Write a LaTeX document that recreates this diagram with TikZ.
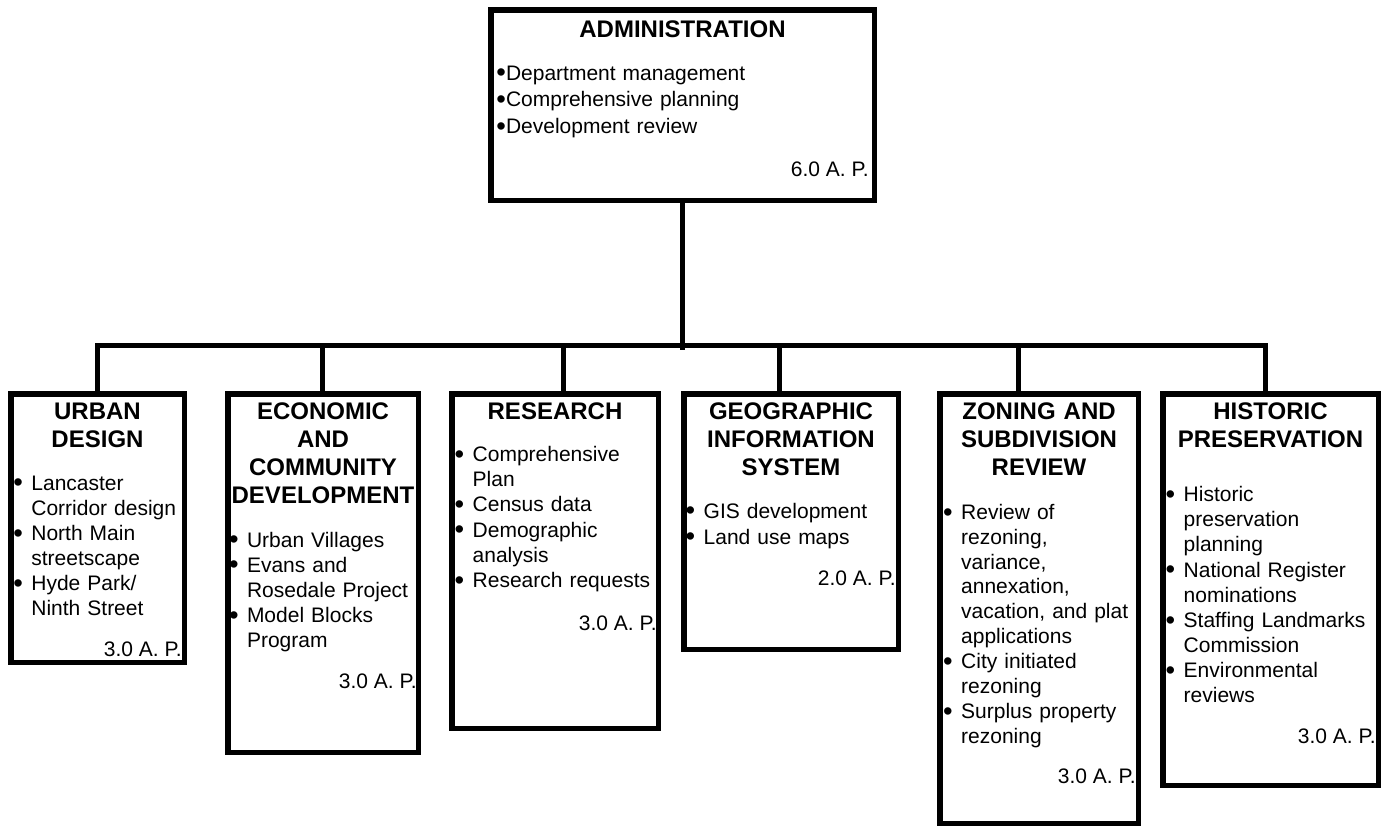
\documentclass[tikz,border=0pt]{standalone}
\usepackage{fontspec}
\setmainfont{Liberation Sans}
\setlength{\parskip}{0pt}

% one box per unit: #1 name, (#2,#3) outer top-left, (#4,#5) outer bottom-right
\newcommand\orgbox[5]{%
  \node[unitbox, anchor=north west,
        minimum width={#4-#2-5.5}, minimum height={#5-#3-5.5}]
        (#1) at (#2,#3) {};}
% bulleted duty lines; optional argument = space kept for the bullet
\newcommand\bul[1]{\llap{\makebox[#1][l]{\raisebox{-0.09em}{\scalebox{1.3}{\textbullet}}}}}
\newcommand\fitm[1][18pt]{\bul{#1}}
\newcommand\itm[1][18pt]{\par\noindent\bul{#1}}

\tikzset{
  unitbox/.style={draw, line width=5.5pt, inner sep=0pt},
  link/.style={line width=5pt},
  head/.style={inner sep=0pt, anchor=base, align=center,
               font=\bfseries\fontsize{24}{27.9}\selectfont},
  duties/.style={inner sep=0pt, anchor=base west, align=left, text width=#1,
                 font=\fontsize{21}{25.1}\selectfont},
  staff/.style={inner sep=0pt, anchor=base east, font=\fontsize{21}{25}\selectfont},
}

\begin{document}
\begin{tikzpicture}[x=1pt, y=-1pt]
\useasboundingbox (0,0) rectangle (1388,827);

% ---- boxes ----
\orgbox{admin}{488}{7}{877}{203}
\orgbox{ud}{8}{391}{187}{665}
\orgbox{eco}{225}{391}{421}{755}
\orgbox{res}{449}{391}{661}{731}
\orgbox{gis}{681}{391}{901}{652}
\orgbox{zon}{937}{391}{1141}{826}
\orgbox{his}{1160}{391}{1381}{788}

% ---- administration ----
\node[head, text width=380pt] (admin-t) at (682.5,37.3) {ADMINISTRATION};
\node[duties=360pt, font=\fontsize{21}{26.7}\selectfont] (admin-d) at (505.8,80)
  {\fitm[9.6pt]Department management
   \itm[9.6pt]Comprehensive planning
   \itm[9.6pt]Development review};
\node[staff] (admin-s) at (869,176.7) {6.0 A. P.};

% ---- urban design ----
\node[head, text width=169pt] (ud-t) at (97.5,419.3) {URBAN\\DESIGN};
\node[duties=155pt] (ud-d) at (31.2,490)
  {\fitm Lancaster\\Corridor design
   \itm North Main\\streetscape
   \itm Hyde Park/\\Ninth Street};
\node[staff] (ud-s) at (182,656) {3.0 A. P.};

% ---- economic and community development ----
\node[head, text width=186pt] (eco-t) at (323,419.3)
  {ECONOMIC\\AND\\COMMUNITY\\DEVELOPMENT};
\node[duties=170pt] (eco-d) at (246.8,547)
  {\fitm Urban Villages
   \itm Evans and\\Rosedale Project
   \itm Model Blocks\\Program};
\node[staff] (eco-s) at (417,688) {3.0 A. P.};

% ---- research ----
\node[head, text width=202pt] (res-t) at (555,419.3) {RESEARCH};
\node[duties=180pt] (res-d) at (472.5,461.7)
  {\fitm Comprehensive\\Plan
   \itm Census data
   \itm Demographic\\analysis
   \itm Research requests};
\node[staff] (res-s) at (657,630) {3.0 A. P.};

% ---- geographic information system ----
\node[head, text width=210pt] (gis-t) at (791,419.3)
  {GEOGRAPHIC\\INFORMATION\\SYSTEM};
\node[duties=190pt, font=\fontsize{21}{26}\selectfont] (gis-d) at (703.5,518)
  {\fitm GIS development
   \itm Land use maps};
\node[staff] (gis-s) at (896,585) {2.0 A. P.};

% ---- zoning and subdivision review ----
\node[head, text width=194pt] (zon-t) at (1039,419.3)
  {ZONING AND\\SUBDIVISION\\REVIEW};
\node[duties=175pt, font=\fontsize{21}{24.86}\selectfont] (zon-d) at (961,519.3)
  {\fitm Review of\\rezoning,\\variance,\\annexation,\\vacation, and plat\\applications
   \itm City initiated\\rezoning
   \itm Surplus property\\rezoning};
\node[staff] (zon-s) at (1136,783) {3.0 A. P.};

% ---- historic preservation ----
\node[head, text width=211pt] (his-t) at (1270.5,419.3)
  {HISTORIC\\PRESERVATION};
\node[duties=190pt] (his-d) at (1183.5,501.7)
  {\fitm Historic\\preservation\\planning
   \itm National Register\\nominations
   \itm Staffing Landmarks\\Commission
   \itm Environmental\\reviews};
\node[staff] (his-s) at (1376,743) {3.0 A. P.};

% ---- connectors ----
\coordinate (tk) at (682.5,350);
\coordinate (t1) at (97.5,345.8);
\coordinate (t2) at (322.2,345.8);
\coordinate (t3) at (563,345.8);
\coordinate (t4) at (779,345.8);
\coordinate (t5) at (1018.5,345.8);
\coordinate (t6) at (1265.8,345.8);

\draw[link] (admin.south) -- (tk);
\draw[link, line cap=rect] (t1) -- (t6);
\draw[link] (t1) -- (t1 |- ud.north);
\draw[link] (t2) -- (t2 |- eco.north);
\draw[link] (t3) -- (t3 |- res.north);
\draw[link] (t4) -- (t4 |- gis.north);
\draw[link] (t5) -- (t5 |- zon.north);
\draw[link] (t6) -- (t6 |- his.north);
\end{tikzpicture}
\end{document}
